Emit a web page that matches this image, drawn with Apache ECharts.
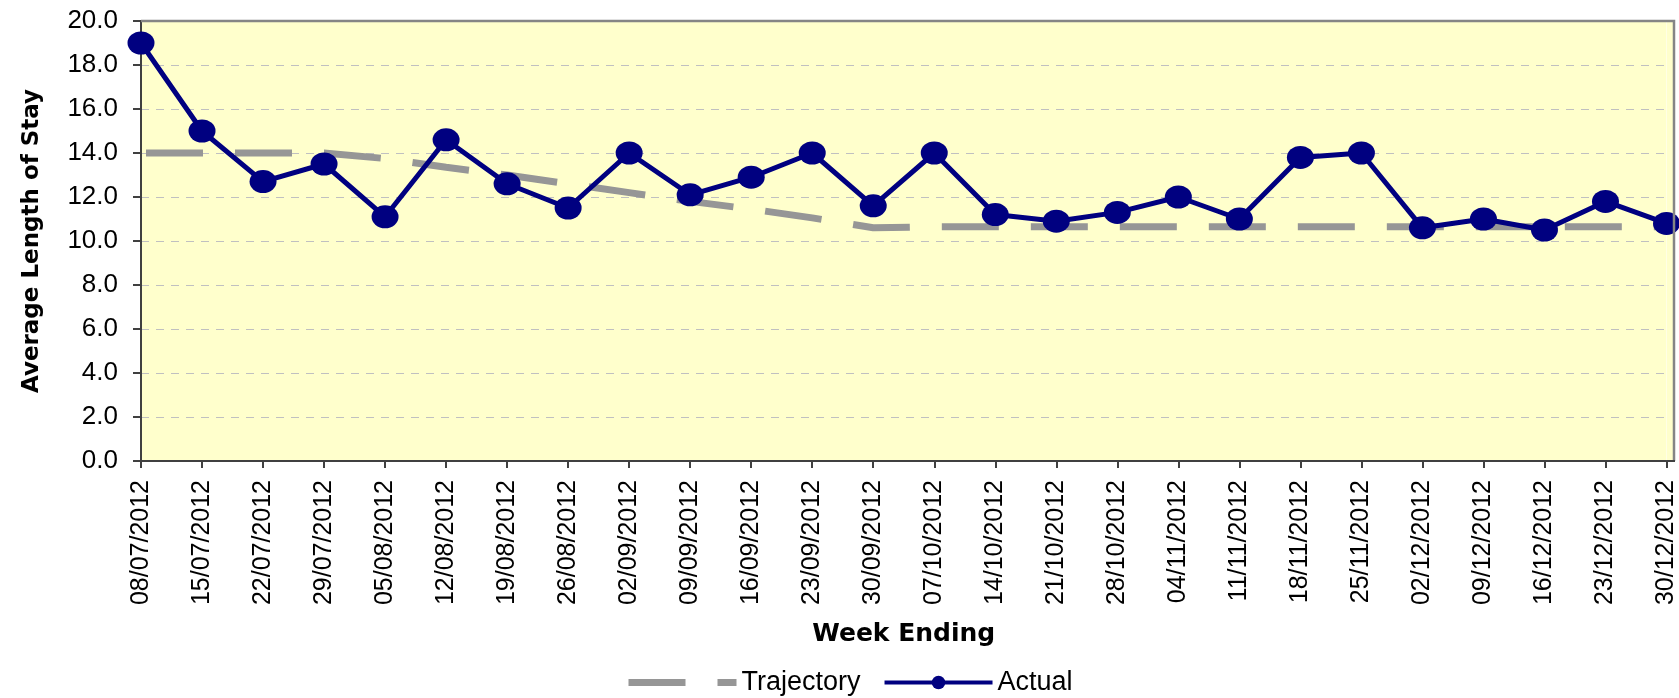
<!DOCTYPE html>
<html>
<head>
<meta charset="utf-8">
<style>
  html, body { margin: 0; padding: 0; background: #ffffff; }
  #chart { width: 1679px; height: 698px; }
</style>
<script src="https://cdn.jsdelivr.net/npm/echarts@6/dist/echarts.min.js"></script>
</head>
<body>
<div id="chart"></div>
<script>
// ---- data ----
const categories = [
  '08/07/2012', '15/07/2012', '22/07/2012', '29/07/2012', '05/08/2012', '12/08/2012',
  '19/08/2012', '26/08/2012', '02/09/2012', '09/09/2012', '16/09/2012', '23/09/2012',
  '30/09/2012', '07/10/2012', '14/10/2012', '21/10/2012', '28/10/2012', '04/11/2012',
  '11/11/2012', '18/11/2012', '25/11/2012', '02/12/2012', '09/12/2012', '16/12/2012',
  '23/12/2012', '30/12/2012'
];
const trajectory = [
  14.0, 14.0, 14.0, 14.0, 13.75, 13.35, 13.0, 12.6, 12.2, 11.8, 11.45, 11.05,
  10.6, 10.65, 10.65, 10.65, 10.65, 10.65, 10.65, 10.65, 10.65, 10.65, 10.65, 10.65,
  10.65, 10.65
];
const actual = [
  19.0, 15.0, 12.7, 13.5, 11.1, 14.6, 12.6, 11.5, 14.0, 12.1, 12.9, 14.0,
  11.6, 14.0, 11.2, 10.9, 11.3, 12.0, 11.0, 13.8, 14.0, 10.6, 11.0, 10.5,
  11.8, 10.8
];
const yTicks = { min: 0, max: 20, interval: 2 };
const seriesNames = ['Trajectory', 'Actual'];
const axisTitles = { x: 'Week Ending', y: 'Average Length of Stay' };

// ---- layout / style ----
const W = 1679, H = 698;
const plot = { left: 141, top: 21, right: 1667, bottom: 461, frameRight: 1674 };
const ellipse = 'path://M0,11.5 A13.5,11.5 0 1,0 27,11.5 A13.5,11.5 0 1,0 0,11.5 Z';

const chart = echarts.init(document.getElementById('chart'), null, { renderer: 'canvas' });

chart.setOption({
  animation: false,
  backgroundColor: '#ffffff',
  textStyle: { fontFamily: 'Liberation Sans', color: '#000000' },
  grid: {
    left: plot.left,
    top: plot.top,
    right: W - plot.right,
    bottom: H - plot.bottom,
    show: true,
    backgroundColor: '#FFFFCC',
    borderWidth: 0,
    containLabel: false
  },
  legend: {
    left: 625,
    top: 669,
    padding: 0,
    itemWidth: 108,
    itemHeight: 17,
    itemGap: 22,
    textStyle: { fontFamily: 'Liberation Sans', fontSize: 27, color: '#000000' },
    data: [
      { name: seriesNames[0], lineStyle: { width: 7, dashOffset: 0 }, itemStyle: { color: 'rgba(0,0,0,0)', borderWidth: 0 } },
      { name: seriesNames[1], lineStyle: { width: 4 } }
    ]
  },
  xAxis: {
    type: 'category',
    data: categories,
    boundaryGap: false,
    name: axisTitles.x,
    nameLocation: 'middle',
    nameGap: 161,
    nameTextStyle: { fontFamily: 'DejaVu Sans', fontWeight: 'bold', fontSize: 25, color: '#000000' },
    axisLine: { show: true, lineStyle: { color: '#404040', width: 2 } },
    axisTick: { show: true, length: 7, interval: 0, lineStyle: { color: '#404040', width: 2 } },
    axisLabel: {
      interval: 0,
      rotate: 90,
      margin: 19,
      fontFamily: 'Liberation Sans',
      fontSize: 25,
      color: '#000000'
    },
    splitLine: { show: false }
  },
  yAxis: {
    type: 'value',
    min: yTicks.min,
    max: yTicks.max,
    interval: yTicks.interval,
    name: axisTitles.y,
    nameLocation: 'middle',
    nameGap: 97,
    nameTextStyle: { fontFamily: 'DejaVu Sans', fontWeight: 'bold', fontSize: 23, color: '#000000' },
    axisLine: { show: true, lineStyle: { color: '#404040', width: 2 } },
    axisTick: { show: true, length: 8, lineStyle: { color: '#404040', width: 2 } },
    axisLabel: {
      margin: 23,
      fontFamily: 'Liberation Sans',
      fontSize: 26,
      color: '#000000',
      formatter: function (v) { return v.toFixed(1); }
    },
    splitLine: { show: true, lineStyle: { color: '#C0C0C0', width: 1, type: [8, 7] } }
  },
  series: [
    {
      name: seriesNames[0],
      type: 'line',
      data: trajectory,
      symbol: 'none',
      z: 2,
      lineStyle: { color: '#969696', width: 7, type: [57, 32], dashOffset: 84, cap: 'butt' },
      itemStyle: { color: '#969696' }
    },
    {
      name: seriesNames[1],
      type: 'line',
      data: actual,
      symbol: ellipse,
      symbolSize: [27, 23],
      symbolKeepAspect: false,
      z: 3,
      lineStyle: { color: '#000080', width: 5 },
      itemStyle: { color: '#000080' }
    }
  ],
  graphic: [
    {
      type: 'rect',
      silent: true,
      z: -10,
      shape: { x: plot.right, y: plot.top, width: plot.frameRight - plot.right, height: plot.bottom - plot.top },
      style: { fill: '#FFFFCC' }
    },
    {
      type: 'polyline',
      silent: true,
      z: 10,
      shape: { points: [[plot.left, plot.top], [plot.frameRight, plot.top], [plot.frameRight, plot.bottom]] },
      style: { stroke: '#858585', lineWidth: 2.5, fill: null }
    },
    {
      type: 'line',
      silent: true,
      z: 10,
      shape: { x1: plot.right, y1: plot.bottom, x2: plot.frameRight + 1, y2: plot.bottom },
      style: { stroke: '#404040', lineWidth: 2 }
    }
  ]
});
</script>
</body>
</html>
